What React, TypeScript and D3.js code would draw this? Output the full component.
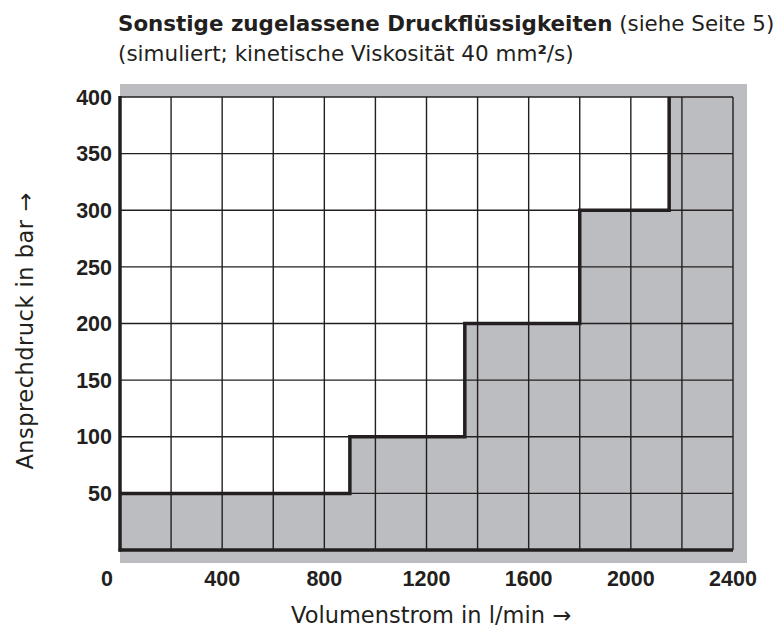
import React, { useEffect, useRef } from 'react';
import * as d3 from 'd3';

// Stufen der Kennlinie: ab Volumenstrom x gilt Ansprechdruck y
const stepFlow = [0, 900, 1350, 1800, 2150];
const stepPressure = [50, 100, 200, 300, 400];

const xGrid = d3.range(0, 2401, 200);
const yGrid = d3.range(0, 401, 50);
const xTickLabels = [0, 400, 800, 1200, 1600, 2000, 2400];
const yTickLabels = [50, 100, 150, 200, 250, 300, 350, 400];

const W = 780;
const H = 630;
const margin = { left: 120, right: 47, top: 97, bottom: 80 };
const GRAY = '#bcbdc0';
const INK = '#231f20';

export default function App() {
  const ref = useRef<SVGSVGElement>(null);

  useEffect(() => {
    const svg = d3.select(ref.current);
    svg.selectAll('*').remove();

    const x = d3.scaleLinear().domain([0, 2400]).range([margin.left, W - margin.right]);
    const y = d3.scaleLinear().domain([0, 400]).range([H - margin.bottom, margin.top]);

    const pts = stepFlow.map((f, i) => ({ x: f, y: stepPressure[i] }));

    // grauer Hintergrund (leicht über den Rahmen hinaus)
    svg.append('rect')
      .attr('x', x(0))
      .attr('y', y(400) - 13)
      .attr('width', x(2400) - x(0) + 14)
      .attr('height', y(0) - y(400) + 26)
      .attr('fill', GRAY);

    // weiße Fläche oberhalb der Kennlinie
    const area = d3.area<{ x: number; y: number }>()
      .x(d => x(d.x))
      .y0(y(400))
      .y1(d => y(d.y))
      .curve(d3.curveStepAfter);
    svg.append('path').attr('d', area(pts)).attr('fill', '#fff');

    // Gitter
    svg.append('g').selectAll('line').data(xGrid).join('line')
      .attr('x1', d => x(d)).attr('x2', d => x(d))
      .attr('y1', y(0)).attr('y2', y(400))
      .attr('stroke', INK).attr('stroke-width', 1.4);
    svg.append('g').selectAll('line').data(yGrid).join('line')
      .attr('x1', x(0)).attr('x2', x(2400))
      .attr('y1', d => y(d)).attr('y2', d => y(d))
      .attr('stroke', INK).attr('stroke-width', 1.4);

    // Kennlinie
    const line = d3.line<{ x: number; y: number }>()
      .x(d => x(d.x))
      .y(d => y(d.y))
      .curve(d3.curveStepAfter);
    svg.append('path').attr('d', line(pts))
      .attr('fill', 'none').attr('stroke', INK).attr('stroke-width', 3.5)
      .attr('stroke-linejoin', 'miter');

    // Achsen (links, unten dick)
    svg.append('line')
      .attr('x1', x(0)).attr('x2', x(0)).attr('y1', y(400) - 1).attr('y2', y(0) + 1.5)
      .attr('stroke', INK).attr('stroke-width', 3.5);
    svg.append('line')
      .attr('x1', x(0) - 1.5).attr('x2', x(2400)).attr('y1', y(0)).attr('y2', y(0))
      .attr('stroke', INK).attr('stroke-width', 3.5);

    const tickFont = '"Liberation Sans", Arial, sans-serif';

    svg.append('g').selectAll('text').data(yTickLabels).join('text')
      .attr('x', x(0) - 8)
      .attr('y', d => y(d))
      .attr('dy', '0.36em')
      .attr('text-anchor', 'end')
      .attr('font-family', tickFont).attr('font-weight', 'bold').attr('font-size', 21.5)
      .attr('fill', INK)
      .text(d => d);

    svg.append('g').selectAll('text').data(xTickLabels).join('text')
      .attr('x', d => x(d) - (d === 0 ? 13 : 0))
      .attr('y', y(0) + 36)
      .attr('text-anchor', 'middle')
      .attr('font-family', tickFont).attr('font-weight', 'bold').attr('font-size', 21.5)
      .attr('fill', INK)
      .text(d => d);

    const labelFont = '"DejaVu Sans", sans-serif';

    svg.append('text')
      .attr('x', 431)
      .attr('y', 623)
      .attr('text-anchor', 'middle')
      .attr('font-family', labelFont).attr('font-size', 22.5).attr('fill', INK)
      .text('Volumenstrom in l/min →');

    svg.append('text')
      .attr('transform', `translate(33,331) rotate(-90)`)
      .attr('text-anchor', 'middle')
      .attr('font-family', labelFont).attr('font-size', 22.5).attr('letter-spacing', 0.5)
      .attr('fill', INK)
      .text('Ansprechdruck in bar →');

    const title = svg.append('text')
      .attr('x', 118).attr('y', 31)
      .attr('font-family', labelFont).attr('font-size', 21.4).attr('fill', INK);
    title.append('tspan').attr('font-weight', 'bold').text('Sonstige zugelassene Druckflüssigkeiten');
    title.append('tspan').text(' (siehe Seite 5)');

    const sub = svg.append('text')
      .attr('x', 118).attr('y', 61)
      .attr('font-family', labelFont).attr('font-size', 21.5).attr('fill', INK);
    sub.append('tspan').text('(simuliert; kinetische Viskosität 40 mm');
    sub.append('tspan').attr('font-weight', 'bold').text('²');
    sub.append('tspan').text('/s)');
  }, []);

  return (
    <svg ref={ref} width={W} height={H}
      style={{ position: 'absolute', left: 0, top: 0, background: '#fff' }} />
  );
}
